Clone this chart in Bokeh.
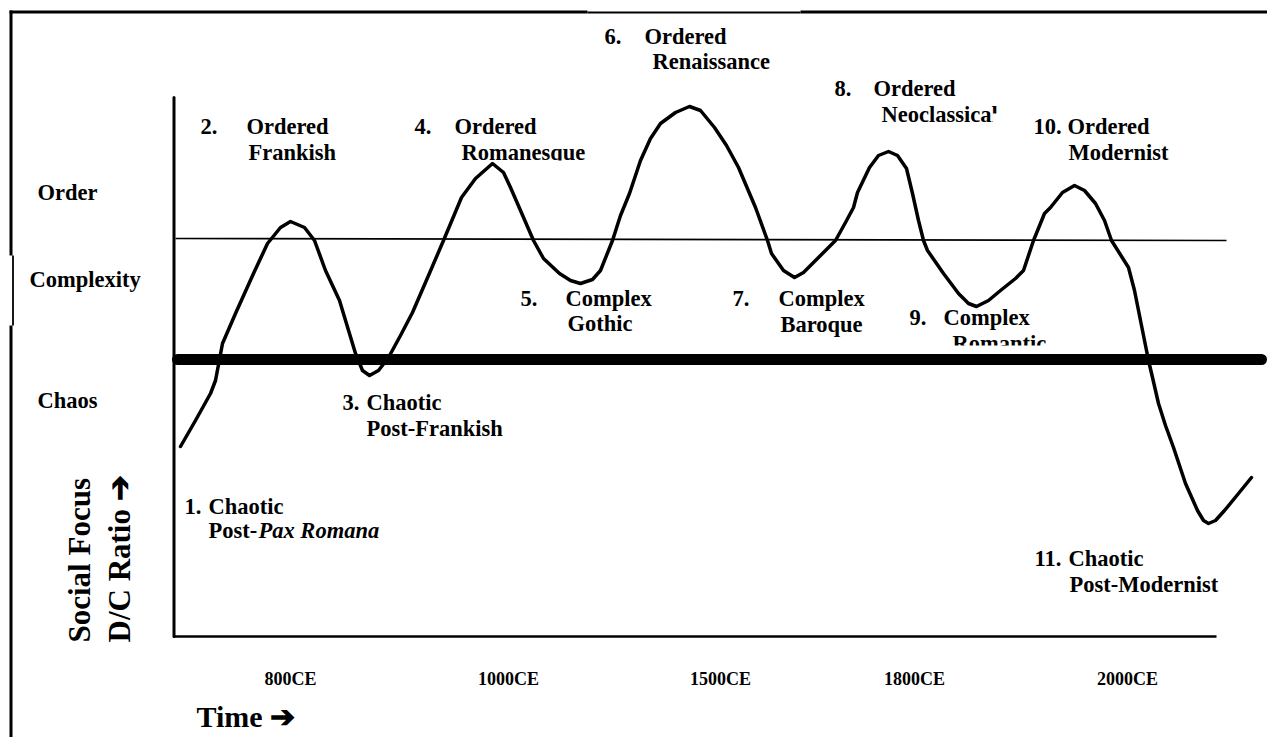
import math
from bokeh.plotting import figure
from bokeh.models import Range1d, ColumnDataSource
from bokeh.embed import file_html
from bokeh.resources import INLINE
from bokeh.core.properties import value

# ---------------- data ----------------
# social focus (D/C ratio) curve through time
curve_x = [180, 195, 210, 215, 222, 235, 253, 267, 280, 290, 304, 314, 325, 339, 355, 362, 369, 378,
           388, 400, 412, 428, 443, 461, 475, 492, 503, 510, 520, 533, 543, 559, 570, 580, 592, 600,
           612, 620, 629, 640, 650, 660, 675, 689, 700, 714, 726, 738, 755, 767, 771, 783, 794, 803,
           812, 825, 835, 845, 853, 857, 869, 878, 888, 897, 906, 912, 918, 923, 927, 943, 958, 968,
           976, 988, 1000, 1015, 1023, 1033, 1044, 1050, 1062, 1074, 1084, 1095, 1104, 1111, 1128,
           1134, 1140, 1148, 1152, 1158, 1165, 1173, 1185, 1197, 1203, 1208, 1215, 1224, 1238, 1251]
curve_y = [307, 333, 360, 373, 410, 440, 480, 510, 526, 532, 526, 513, 483, 453, 400, 383, 378, 383,
           396, 418, 441, 478, 513, 556, 575, 590, 581, 566, 543, 513, 495, 480, 473, 470, 474, 483,
           513, 538, 560, 593, 615, 630, 641, 647, 643, 626, 608, 586, 546, 513, 500, 483, 476, 481,
           490, 503, 513, 531, 546, 561, 586, 598, 602, 598, 585, 560, 533, 513, 503, 480, 460, 450,
           447, 453, 463, 475, 483, 513, 540, 546, 561, 568, 563, 550, 533, 513, 486,
           463, 433, 393, 376, 350, 328, 306, 270, 243, 233, 230, 233, 243, 260, 276]

tick_labels = ["800CE", "1000CE", "1500CE", "1800CE", "2000CE"]
tick_pos = [290, 508, 720, 914, 1127]

level_labels = ["Order", "Complexity", "Chaos"]

stage_num = ["1.", "2.", "3.", "4.", "5.", "6.", "7.", "8.", "9.", "10.", "11."]
stage_kind = ["Chaotic", "Ordered", "Chaotic", "Ordered", "Complex", "Ordered",
              "Complex", "Ordered", "Complex", "Ordered", "Chaotic"]
stage_era = ["Post-", "Frankish", "Post-Frankish", "Romanesque", "Gothic", "Renaissance",
             "Baroque", "Neoclassical", "Romantic", "Modernist", "Post-Modernist"]
era_italic = "Pax Romana"

# ---------------- layout of labels ----------------
num_x = [184, 200, 342, 414, 520, 604, 732, 834, 909, 1033, 1034]
kind_x = [208, 246, 366, 454, 565, 644, 778, 873, 943, 1067, 1068]
line1_y = [247, 627, 351, 627, 455, 717, 455, 665, 436, 627, 195]
era_x = [208, 248, 366, 461, 567, 652, 780, 881, 952, 1068, 1069]
line2_y = [223, 601, 325, 601, 430, 692, 429, 639, 410, 601, 169]

FONT = value("Liberation Serif")
LBL = "22.5px"

p = figure(width=1267, height=737, x_range=Range1d(0, 1267), y_range=Range1d(16, 753),
           output_backend="svg", toolbar_location=None, min_border=0,
           x_axis_type=None, y_axis_type=None, outline_line_color=None,
           background_fill_color="white", border_fill_color="white")
p.grid.visible = False

# ---- texts ----
src = ColumnDataSource(dict(nx=num_x, kx=kind_x, ex=era_x, y1=line1_y, y2=line2_y,
                            num=stage_num, kind=stage_kind, era=stage_era))
common = dict(text_font=FONT, text_font_style="bold", text_font_size=LBL,
              text_baseline="alphabetic", text_align="left", text_color="black")
p.text(x="nx", y="y1", text="num", source=src, **common)
p.text(x="kx", y="y1", text="kind", source=src, **common)
p.text(x="ex", y="y2", text="era", source=src, **common)
p.text(x=[258], y=[223], text=[era_italic], text_font=FONT, text_font_style="bold italic",
       text_font_size=LBL, text_baseline="alphabetic", text_align="left", text_color="black")

p.text(x=[37, 29, 37], y=[561, 474, 353], text=level_labels, **common)

p.text(x=tick_pos, y=[75] * len(tick_pos), text=tick_labels, text_font=FONT,
       text_font_style="bold", text_font_size="18px", text_baseline="alphabetic",
       text_align="center", text_color="black")

p.text(x=[196], y=[37], text=["Time \u2794"], text_font=FONT, text_font_style="bold",
       text_font_size="30px", text_baseline="alphabetic", text_align="left", text_color="black")

p.text(x=[79, 119], y=[111, 111], text=["Social Focus", "D/C Ratio \u2794"], angle=math.pi / 2,
       text_font=FONT, text_font_style="bold", text_font_size="31px",
       text_baseline="alphabetic", text_align="left", text_color="black")

# white masks reproducing the clipped text boxes
p.quad(left=[452, 992, 940], right=[592, 1010, 1055], bottom=[580, 615, 396], top=[593, 640, 408],
       fill_color="white", line_color=None)

# ---- frame ----
p.line([10.5, 10.5], [0, 428], line_width=3, line_color="black")
p.line([12.5, 12.5], [428, 498], line_width=1.8, line_color="black")
p.line([10.5, 10.5], [498, 743], line_width=3, line_color="black")
p.line([9, 587], [741.5, 741.5], line_width=3, line_color="black")
p.line([587, 800], [741, 741], line_width=2, line_color="black")
p.line([800, 1283], [741.5, 741.5], line_width=3, line_color="black")

# ---- axes ----
p.line([173.5, 173.5], [117, 656], line_width=3, line_color="black", line_cap="round")
p.line([173, 1216], [117, 117], line_width=2.5, line_color="black")

# thin order/complexity boundary, thick chaos boundary
p.line([175, 1226], [515, 513], line_width=1.6, line_color="black")
p.line([177, 1261], [394, 394], line_width=11, line_color="black", line_cap="round")

# ---- curve ----
p.line(curve_x, curve_y, line_width=3.5, line_color="black", line_join="round", line_cap="round")

open("out.html", "w").write(file_html(p, INLINE))
